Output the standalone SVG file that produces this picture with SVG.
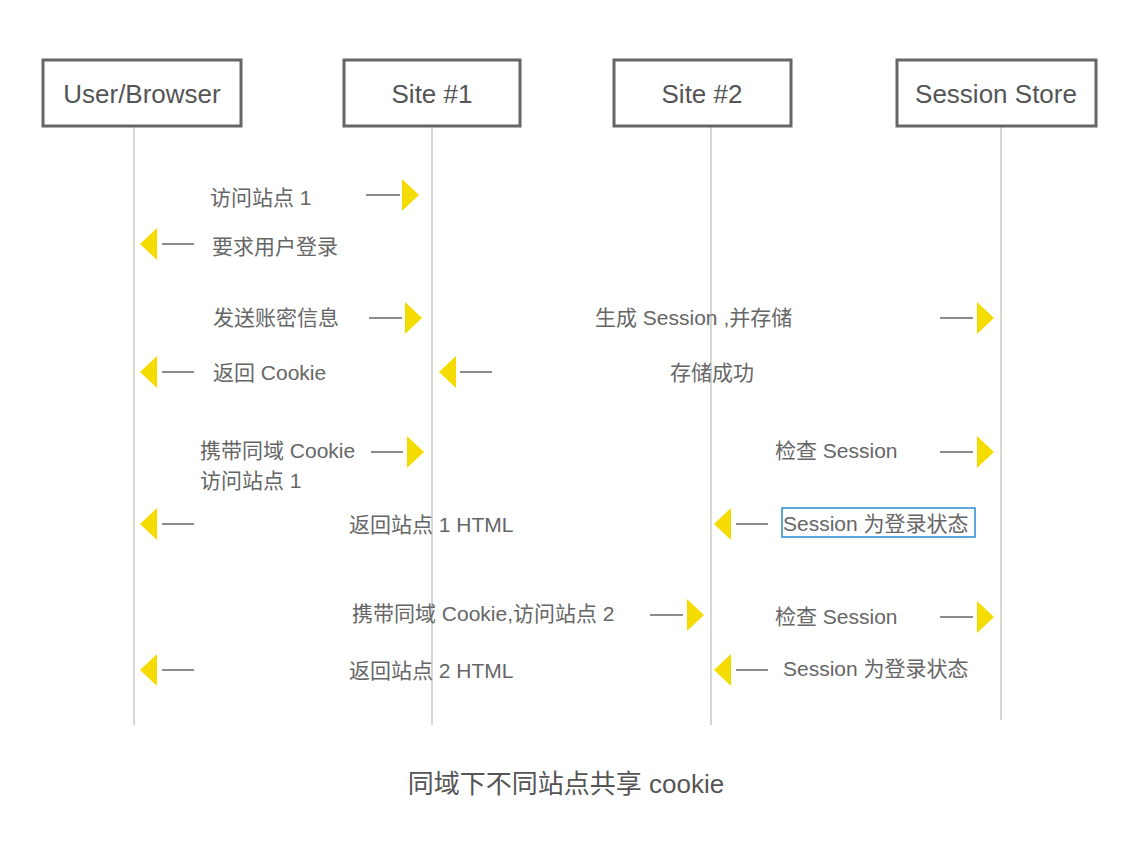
<svg xmlns="http://www.w3.org/2000/svg" width="1144" height="842" viewBox="0 0 1144 842">
<style>
.box{fill:#fff;stroke:#666;stroke-width:3}
.life{stroke:#c8c8c8;stroke-width:1.5}
.hd{font-family:"Liberation Sans","Noto Sans CJK SC",sans-serif;font-size:26px;fill:#555;text-anchor:middle}
.lb{font-family:"Liberation Sans","Noto Sans CJK SC",sans-serif;font-size:21px;fill:#666}
.ln{stroke:#666;stroke-width:1.5}
.tri{fill:#f5dc00}
</style>
<rect width="1144" height="842" fill="#fff"/>
<g id="lifelines">
<line class="life" x1="134" y1="126" x2="134" y2="725"/>
<line class="life" x1="432" y1="126" x2="432" y2="725"/>
<line class="life" x1="711" y1="126" x2="711" y2="725"/>
<line class="life" x1="1001" y1="126" x2="1001" y2="720"/>
</g>
<g id="user"><rect class="box" x="43" y="60" width="198" height="66"/><text class="hd" x="142" y="103">User/Browser</text></g>
<g id="site1"><rect class="box" x="344" y="60" width="176" height="66"/><text class="hd" x="432" y="103">Site #1</text></g>
<g id="site2"><rect class="box" x="614" y="60" width="177" height="66"/><text class="hd" x="702" y="103">Site #2</text></g>
<g id="store"><rect class="box" x="897" y="60" width="199" height="66"/><text class="hd" x="996" y="103">Session Store</text></g>
<g id="connectors">
<line class="ln" x1="366" y1="195" x2="400" y2="195"/><polygon class="tri" points="402,179 419,195 402,211"/>
<polygon class="tri" points="157,228 140,244 157,260"/><line class="ln" x1="162" y1="244" x2="194" y2="244"/>
<line class="ln" x1="369" y1="318" x2="402" y2="318"/><polygon class="tri" points="405,302 422,318 405,334"/>
<line class="ln" x1="940" y1="318" x2="973" y2="318"/><polygon class="tri" points="977,302 994,318 977,334"/>
<polygon class="tri" points="157,356 140,372 157,388"/><line class="ln" x1="162" y1="372" x2="194" y2="372"/>
<polygon class="tri" points="456,356 439,372 456,388"/><line class="ln" x1="460" y1="372" x2="492" y2="372"/>
<line class="ln" x1="371" y1="452" x2="403" y2="452"/><polygon class="tri" points="407,436 424,452 407,468"/>
<line class="ln" x1="940" y1="452" x2="973" y2="452"/><polygon class="tri" points="977,436 994,452 977,468"/>
<polygon class="tri" points="157,508 140,524 157,540"/><line class="ln" x1="162" y1="524" x2="194" y2="524"/>
<polygon class="tri" points="731,508 714,524 731,540"/><line class="ln" x1="736" y1="524" x2="768" y2="524"/>
<line class="ln" x1="650" y1="615" x2="683" y2="615"/><polygon class="tri" points="687,599 704,615 687,631"/>
<line class="ln" x1="940" y1="617" x2="973" y2="617"/><polygon class="tri" points="977,601 994,617 977,633"/>
<polygon class="tri" points="157,654 140,670 157,686"/><line class="ln" x1="162" y1="670" x2="194" y2="670"/>
<polygon class="tri" points="731,654 714,670 731,686"/><line class="ln" x1="736" y1="670" x2="768" y2="670"/>
</g>
<g id="labels">
<text class="lb" x="210" y="205">访问站点 1</text>
<text class="lb" x="212" y="254">要求用户登录</text>
<text class="lb" x="213" y="325">发送账密信息</text>
<text class="lb" x="595" y="325">生成 Session ,并存储</text>
<text class="lb" x="213" y="380">返回 Cookie</text>
<text class="lb" x="670" y="380">存储成功</text>
<text class="lb" x="200" y="458">携带同域 Cookie</text>
<text class="lb" x="200" y="488">访问站点 1</text>
<text class="lb" x="775" y="458">检查 Session</text>
<text class="lb" x="349" y="532">返回站点 1 HTML</text>
<rect x="782" y="508" width="193" height="29" fill="none" stroke="#2a8ad4" stroke-width="1.5"/>
<text class="lb" x="783" y="531">Session 为登录状态</text>
<text class="lb" x="352" y="621">携带同域 Cookie,访问站点 2</text>
<text class="lb" x="775" y="624">检查 Session</text>
<text class="lb" x="349" y="678">返回站点 2 HTML</text>
<text class="lb" x="783" y="676">Session 为登录状态</text>
<text x="566" y="793" font-family="Liberation Sans,Noto Sans CJK SC,sans-serif" font-size="26" fill="#555" text-anchor="middle">同域下不同站点共享 cookie</text>
</g>
</svg>
